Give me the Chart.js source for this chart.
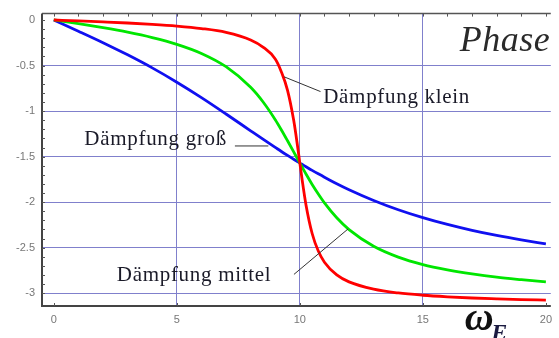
<!DOCTYPE html>
<html lang="de">
<head>
    <meta charset="UTF-8">
    <title>Phase</title>
    <script src="https://cdn.jsdelivr.net/npm/chart.js"></script>
    <style>
        html, body { margin: 0; padding: 0; background: #fff; }
        #wrap { width: 559px; height: 338px; }
    </style>
</head>
<body>
<div id="wrap"><canvas id="phaseChart"></canvas></div>
<script>
    // Erregerfrequenz (x) und Phasenwinkel der drei Kurven
    const omega = [0, 1, 2, 3, 4, 5, 6, 7, 8, 8.5, 9, 9.25, 9.5, 9.75, 9.9, 10, 10.1, 10.25, 10.5, 10.75, 11, 11.5, 12, 13, 14, 15, 16, 17, 18, 19, 20];
    const phaseKlein = [0, -0.010, -0.021, -0.033, -0.048, -0.067, -0.094, -0.136, -0.219, -0.297, -0.428, -0.570, -0.772, -1.102, -1.372, -1.571, -1.767, -2.030, -2.344, -2.537, -2.659, -2.799, -2.875, -2.955, -2.997, -3.022, -3.039, -3.052, -3.061, -3.069, -3.075];
    const phaseMittel = [0, -0.041, -0.085, -0.134, -0.193, -0.267, -0.367, -0.513, -0.739, -0.898, -1.095, -1.207, -1.326, -1.448, -1.522, -1.571, -1.619, -1.691, -1.805, -1.910, -2.007, -2.171, -2.301, -2.484, -2.603, -2.685, -2.743, -2.788, -2.824, -2.851, -2.875];
    const phaseGross = [0, -0.123, -0.249, -0.383, -0.526, -0.683, -0.852, -1.032, -1.217, -1.309, -1.399, -1.444, -1.487, -1.529, -1.554, -1.571, -1.587, -1.611, -1.651, -1.689, -1.726, -1.797, -1.863, -1.981, -2.083, -2.170, -2.245, -2.310, -2.366, -2.415, -2.459];

    const xTicks = [0, 5, 10, 15, 20];
    const yTicks = [0, -0.5, -1, -1.5, -2, -2.5, -3];

    // Beschriftungen in Datenkoordinaten
    const notes = [
        { text: 'Phase', x: 16.5, y: -0.342, font: 'italic 36px "Liberation Serif"', color: '#2a2a2a', spacing: '0.5px' },
        { text: 'Dämpfung klein', x: 10.95, y: -0.916, font: '21px "Liberation Serif"', color: '#1a1a28', spacing: '0.7px' },
        { text: 'Dämpfung groß', x: 1.24, y: -1.372, font: '21px "Liberation Serif"', color: '#1a1a28', spacing: '0.7px' },
        { text: 'Dämpfung mittel', x: 2.56, y: -2.869, font: '21px "Liberation Serif"', color: '#1a1a28', spacing: '0.7px' },
        { text: 'ω', x: 16.7, y: -3.40, font: 'italic bold 40px "Liberation Serif"', color: '#111', spacing: '0px' },
        { text: 'E', x: 17.78, y: -3.51, font: 'italic bold 24px "Liberation Serif"', color: '#1a1a40', spacing: '0px' }
    ];
    const leaders = [
        [[9.36, -0.624], [10.84, -0.786]],
        [[7.36, -1.383], [8.72, -1.383]],
        [[9.76, -2.793], [11.96, -2.294]]
    ];

    function toPoints(ys) {
        return omega.map((x, i) => ({ x: x, y: ys[i] }));
    }

    // Rahmen mit kleinen Strichen nach innen
    const framePlugin = {
        id: 'frame',
        beforeDatasetsDraw(chart) {
            const ctx = chart.ctx, a = chart.chartArea;
            const xs = chart.scales.x, ys = chart.scales.y;
            ctx.save();
            ctx.strokeStyle = '#555';
            ctx.lineWidth = 1.5;
            ctx.beginPath();
            ctx.moveTo(a.left, a.top); ctx.lineTo(a.right, a.top);
            ctx.stroke();
            ctx.strokeStyle = '#444';
            ctx.lineWidth = 2;
            ctx.beginPath();
            ctx.moveTo(a.left, a.top); ctx.lineTo(a.left, a.bottom); ctx.lineTo(a.right, a.bottom);
            ctx.stroke();
            ctx.lineWidth = 1;
            ctx.strokeStyle = '#555';
            ctx.beginPath();
            for (let v = 0; v >= -3.1; v -= 0.1) {
                const py = Math.round(ys.getPixelForValue(v)) + 0.5;
                ctx.moveTo(a.left, py); ctx.lineTo(a.left + 3, py);
            }
            for (let v = 0; v <= 20; v++) {
                const px = Math.round(xs.getPixelForValue(v)) + 0.5;
                ctx.moveTo(px, a.top); ctx.lineTo(px, a.top + 3);
            }
            xTicks.forEach(v => {
                const px = Math.round(xs.getPixelForValue(v)) + 0.5;
                ctx.moveTo(px, a.bottom); ctx.lineTo(px, a.bottom - 3);
            });
            ctx.stroke();
            ctx.restore();
        },
        afterDraw(chart) {
            const ctx = chart.ctx;
            const xs = chart.scales.x, ys = chart.scales.y;
            ctx.save();
            ctx.strokeStyle = '#333';
            ctx.lineWidth = 1;
            leaders.forEach(l => {
                ctx.beginPath();
                ctx.moveTo(xs.getPixelForValue(l[0][0]), ys.getPixelForValue(l[0][1]));
                ctx.lineTo(xs.getPixelForValue(l[1][0]), ys.getPixelForValue(l[1][1]));
                ctx.stroke();
            });
            ctx.textBaseline = 'alphabetic';
            ctx.textAlign = 'left';
            notes.forEach(n => {
                ctx.font = n.font;
                ctx.letterSpacing = n.spacing;
                ctx.fillStyle = n.color;
                ctx.fillText(n.text, xs.getPixelForValue(n.x), ys.getPixelForValue(n.y));
            });
            ctx.restore();
        }
    };

    const gridColor = '#8080cc';

    window.onload = function() {
        const ctx = document.getElementById('phaseChart').getContext('2d');
        new Chart(ctx, {
            type: 'scatter',
            data: {
                datasets: [
                    { label: 'Dämpfung klein', data: toPoints(phaseKlein), borderColor: '#ff0000' },
                    { label: 'Dämpfung mittel', data: toPoints(phaseMittel), borderColor: '#00e600' },
                    { label: 'Dämpfung groß', data: toPoints(phaseGross), borderColor: '#1010f0' }
                ].map(d => Object.assign(d, {
                    showLine: true,
                    pointRadius: 0,
                    borderWidth: 2.8,
                    cubicInterpolationMode: 'monotone',
                    fill: false
                }))
            },
            options: {
                responsive: true,
                maintainAspectRatio: false,
                animation: false,
                layout: { padding: { top: 10, right: 0, left: 0, bottom: 0 } },
                plugins: { legend: { display: false }, tooltip: { enabled: false } },
                scales: {
                    x: {
                        type: 'linear',
                        min: -0.48,
                        max: 20.2,
                        afterBuildTicks: s => { s.ticks = xTicks.map(v => ({ value: v })); },
                        afterFit: s => { s.height = 32; },
                        border: { display: false },
                        grid: {
                            drawTicks: false,
                            lineWidth: 1,
                            color: c => (c.tick && (c.tick.value === 0 || c.tick.value === 20)) ? 'rgba(0,0,0,0)' : gridColor
                        },
                        ticks: {
                            padding: 7,
                            color: '#777',
                            font: { family: '"Liberation Sans", Arial', size: 11 },
                            maxRotation: 0
                        }
                    },
                    y: {
                        type: 'linear',
                        min: -3.14,
                        max: 0.07,
                        afterBuildTicks: s => { s.ticks = yTicks.map(v => ({ value: v })); },
                        afterFit: s => { s.width = 42; },
                        border: { display: false },
                        grid: {
                            drawTicks: false,
                            lineWidth: 1,
                            color: c => (c.tick && c.tick.value === 0) ? 'rgba(0,0,0,0)' : gridColor
                        },
                        ticks: {
                            padding: 7,
                            color: '#777',
                            font: { family: '"Liberation Sans", Arial', size: 11 },
                            callback: v => String(v)
                        }
                    }
                }
            },
            plugins: [framePlugin]
        });
    };
</script>
</body>
</html>
